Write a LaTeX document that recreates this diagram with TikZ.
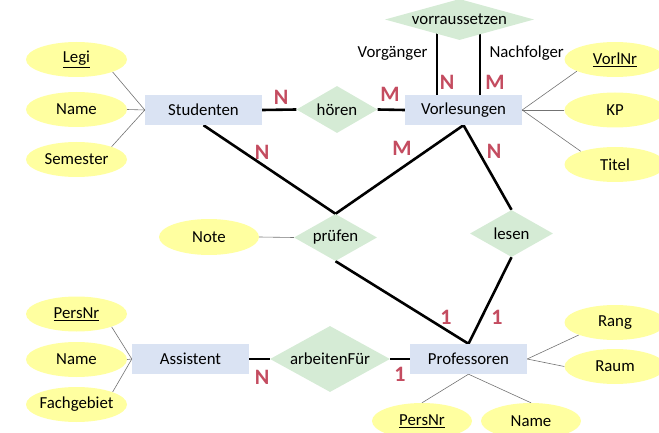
\documentclass[tikz,border=0pt]{standalone}
\usepackage{fontspec}
\setmainfont{Carlito}
\usetikzlibrary{shapes.geometric,backgrounds}

\definecolor{attrfill}{RGB}{255,255,160}
\definecolor{entfill}{RGB}{218,227,243}
\definecolor{relfill}{RGB}{213,235,213}
\definecolor{cardred}{RGB}{196,76,96}

\tikzset{
  txt/.style={font=\fontsize{16.8}{20}\selectfont},
  entity/.style={txt, rectangle, fill=entfill, minimum width=117pt, minimum height=30pt, inner sep=0pt},
  attr/.style={txt, ellipse, fill=attrfill, minimum width=101pt, minimum height=35pt, inner sep=0pt},
  rel/.style={txt, diamond, fill=relfill, inner sep=0pt},
  card/.style={font=\fontsize{22}{24}\selectfont\bfseries, text=cardred, inner sep=0pt},
  link/.style={line width=2.6pt, black},
  attrlink/.style={line width=0.6pt, black!55},
}
\newcommand{\zw}[1]{\makebox[0pt]{#1}}

\begin{document}
\begin{tikzpicture}[x=1pt, y=-1pt]
  \useasboundingbox (0,0) rectangle (659,433);
  \clip (0,0) rectangle (659,433);

  % entities
  \node[entity] (stud) at (203.5,110) {Studenten};
  \node[entity] (vorl) at (463.5,110) {Vorlesungen};
  \node[entity] (asst) at (190.5,359) {Assistent};
  \node[entity] (prof) at (468.5,359) {Professoren};

  % relationships
  \node[rel, minimum width=81pt, minimum height=47pt] (hoeren) at (337,109.5) {\zw{hören}};
  \node[rel, minimum width=149pt, minimum height=41pt] (vrs) at (459.5,19.5) {\zw{vorraussetzen}};
  \node[rel, minimum width=83pt, minimum height=47pt] (pruefen) at (335.5,237.5) {\zw{prüfen}};
  \node[rel, minimum width=83pt, minimum height=47pt] (lesen) at (511.5,233.5) {\zw{lesen}};
  \node[rel, minimum width=120pt, minimum height=66pt] (arb) at (330,359) {\zw{arbeitenFür}};

  % attributes
  \node[attr] (legi) at (76.5,59.5) {\zw{\underline{Legi}}};
  \node[attr] (sname) at (76.5,109.5) {\zw{Name}};
  \node[attr] (sem) at (76.5,159.5) {\zw{Semester}};
  \node[attr] (vnr) at (615,59.5) {\zw{\underline{VorlNr}}};
  \node[attr] (kp) at (615,110) {\zw{KP}};
  \node[attr] (titel) at (615,164.5) {\zw{Titel}};
  \node[attr, minimum width=100pt, minimum height=36pt] (note) at (209,237) {\zw{Note}};
  \node[attr] (apnr) at (76.5,314) {\zw{\underline{PersNr}}};
  \node[attr] (aname) at (76.5,359.5) {\zw{Name}};
  \node[attr] (fach) at (76.5,404.5) {\zw{Fachgebiet}};
  \node[attr] (rang) at (615,322.5) {\zw{Rang}};
  \node[attr] (raum) at (615,366.5) {\zw{Raum}};
  \node[attr, minimum width=100pt, minimum height=36pt] (ppnr) at (422,421) {\zw{\underline{PersNr}}};
  \node[attr, minimum width=100pt, minimum height=36pt] (pname) at (531,421) {\zw{Name}};

  % role names
  \node[txt, anchor=east] (vorg) at (431,53) {Vorgänger};
  \node[txt, anchor=west] (nachf) at (486,53) {Nachfolger};

  \begin{scope}[on background layer]
    % relationship connectors
    \draw[link] (stud.east) -- (hoeren.west);
    \draw[link] (hoeren.east) -- (vorl.west);
    \draw[link] ([xshift=-26.5pt]vorl.north) -- ([xshift=-26.5pt]vorl.north |- vrs.center);
    \draw[link] ([xshift=16.5pt]vorl.north) -- ([xshift=16.5pt]vorl.north |- vrs.center);
    \draw[link] (stud.south) -- (pruefen.north);
    \draw[link] (vorl.south) -- (pruefen.north);
    \draw[link] (vorl.south) -- (lesen.north);
    \draw[link] (pruefen.south) -- (prof.north);
    \draw[link] (lesen.south) -- (prof.north);
    \draw[link] (asst.east) -- (arb.west);
    \draw[link] (arb.east) -- (prof.west);

    % attribute connectors
    \draw[attrlink] (legi.-19.4) -- (stud.west);
    \draw[attrlink] (sname.east) -- (stud.west);
    \draw[attrlink] (sem.20.8) -- (stud.west);
    \draw[attrlink] (vnr.197.7) -- (vorl.east);
    \draw[attrlink] (kp.west) -- (vorl.east);
    \draw[attrlink] (titel.159.4) -- (vorl.east);
    \draw[attrlink] (note.east) -- (pruefen.west);
    \draw[attrlink] (apnr.-20.1) -- (asst.west);
    \draw[attrlink] (aname.east) -- (asst.west);
    \draw[attrlink] (fach.19.4) -- (asst.west);
    \draw[attrlink] (rang.199.1) -- (prof.east);
    \draw[attrlink] (raum.west) -- (prof.east);
    \draw[attrlink] (ppnr.north) -- (prof.south);
    \draw[attrlink] (pname.north) -- (prof.south);
  \end{scope}

  % cardinalities
  \node[card] (c1) at (281,97) {N};
  \node[card] (c2) at (390,94) {M};
  \node[card] (c3) at (447,82) {N};
  \node[card] (c4) at (495,82) {M};
  \node[card] (c5) at (262,152) {N};
  \node[card] (c6) at (402,148) {M};
  \node[card] (c7) at (494,151) {N};
  \node[card] (c8) at (446,317) {1};
  \node[card] (c9) at (497,317) {1};
  \node[card] (c10) at (262,377) {N};
  \node[card] (c11) at (400,374) {1};
\end{tikzpicture}
\end{document}
